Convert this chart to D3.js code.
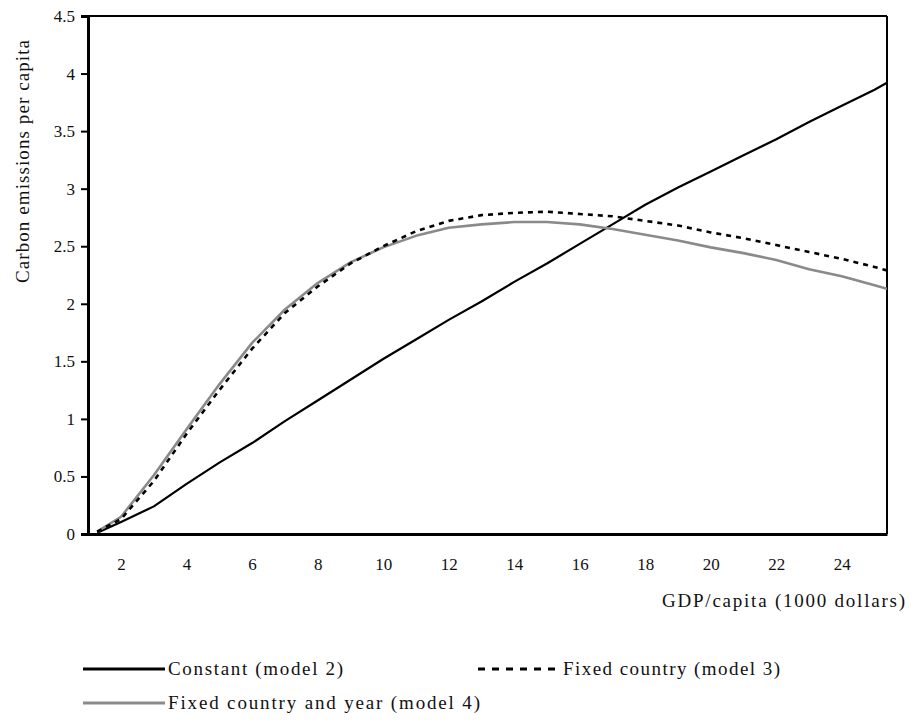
<!DOCTYPE html>
<html>
<head>
<meta charset="utf-8">
<script src="https://cdn.jsdelivr.net/npm/d3@7"></script>
<style>
  html, body { margin: 0; padding: 0; background: #fff; }
  svg { display: block; }
  text { font-family: "Liberation Serif", "DejaVu Serif", "Times New Roman", serif; fill: #111; }
</style>
</head>
<body>
<svg id="chart" width="911" height="724"></svg>
<script>
// ---- data ----
const gdpPerCapita = [1.27, 2, 3, 4, 5, 6, 7, 8, 9, 10, 11, 12, 13, 14, 15, 16, 17, 18, 19, 20, 21, 22, 23, 24, 25, 25.38];
const constantModel2 = [0.01, 0.105, 0.24, 0.435, 0.62, 0.79, 0.98, 1.16, 1.34, 1.52, 1.69, 1.86, 2.02, 2.19, 2.35, 2.52, 2.69, 2.86, 3.01, 3.15, 3.29, 3.43, 3.58, 3.72, 3.86, 3.92];
const fixedCountryModel3 = [0.02, 0.13, 0.46, 0.87, 1.25, 1.61, 1.92, 2.15, 2.35, 2.50, 2.63, 2.72, 2.77, 2.79, 2.80, 2.78, 2.76, 2.72, 2.68, 2.62, 2.57, 2.51, 2.45, 2.39, 2.32, 2.29];
const fixedCountryYearModel4 = [0.02, 0.15, 0.51, 0.91, 1.30, 1.66, 1.95, 2.18, 2.36, 2.49, 2.59, 2.66, 2.69, 2.71, 2.71, 2.69, 2.65, 2.60, 2.55, 2.49, 2.44, 2.38, 2.30, 2.24, 2.16, 2.13];
const xTickValues = [2, 4, 6, 8, 10, 12, 14, 16, 18, 20, 22, 24];
const yTickValues = [0, 0.5, 1, 1.5, 2, 2.5, 3, 3.5, 4, 4.5];
const seriesNames = ["Constant (model 2)", "Fixed country (model 3)", "Fixed country and year (model 4)"];
const xTitle = "GDP/capita (1000 dollars)";
const yTitle = "Carbon emissions per capita";

// ---- layout ----
const svg = d3.select("#chart");
const plot = { left: 88, right: 887, top: 16, bottom: 534 };

const x = d3.scaleLinear().domain([0.99, 25.38]).range([plot.left, plot.right]);
const y = d3.scaleLinear().domain([0, 4.5]).range([plot.bottom, plot.top]);

svg.append("defs").append("clipPath").attr("id", "clip")
  .append("rect").attr("x", plot.left).attr("y", plot.top)
  .attr("width", plot.right - plot.left).attr("height", plot.bottom - plot.top);

// frame top/right
svg.append("line").attr("x1", plot.left).attr("x2", plot.right).attr("y1", plot.top).attr("y2", plot.top)
  .attr("stroke", "#000").attr("stroke-width", 2);
svg.append("line").attr("x1", plot.right).attr("x2", plot.right).attr("y1", plot.top).attr("y2", plot.bottom)
  .attr("stroke", "#000").attr("stroke-width", 2);

// lines
const series = [
  { name: seriesNames[0], values: constantModel2, color: "#000", width: 2.2, dash: null },
  { name: seriesNames[1], values: fixedCountryModel3, color: "#000", width: 2.6, dash: "5,5" },
  { name: seriesNames[2], values: fixedCountryYearModel4, color: "#8a8a8a", width: 2.6, dash: null }
];
const line = d3.line().x((d, i) => x(gdpPerCapita[i])).y(d => y(d));
const drawOrder = [0, 2, 1];
const g = svg.append("g").attr("clip-path", "url(#clip)");
drawOrder.forEach(k => {
  const s = series[k];
  g.append("path").datum(s.values)
    .attr("d", line)
    .attr("fill", "none")
    .attr("stroke", s.color)
    .attr("stroke-width", s.width)
    .attr("stroke-dasharray", s.dash)
    .attr("stroke-linejoin", "round");
});

// y axis
const yAxis = svg.append("g").attr("transform", `translate(${plot.left},0)`)
  .call(d3.axisLeft(y).tickValues(yTickValues).tickSize(7).tickPadding(6).tickFormat(d3.format("")));
yAxis.attr("font-family", null);
yAxis.select(".domain").attr("stroke", "#000").attr("stroke-width", 3);
yAxis.selectAll(".tick line").attr("stroke", "#000").attr("stroke-width", 2);
yAxis.selectAll(".tick text").attr("font-size", 17).attr("fill", "#111");

// x axis
const xAxis = svg.append("g").attr("transform", `translate(0,${plot.bottom})`)
  .call(d3.axisBottom(x).tickValues(xTickValues).tickSize(0).tickPadding(24).tickFormat(d3.format("")));
xAxis.attr("font-family", null);
xAxis.select(".domain").attr("stroke", "#000").attr("stroke-width", 3);
xAxis.selectAll(".tick text").attr("font-size", 17).attr("fill", "#111");

// titles
svg.append("text").attr("x", 905).attr("y", 607).attr("text-anchor", "end")
  .attr("font-size", 19).attr("textLength", 243).attr("lengthAdjust", "spacing").text(xTitle);
svg.append("text").attr("transform", "translate(29,283) rotate(-90)")
  .attr("font-size", 19).attr("textLength", 243).attr("lengthAdjust", "spacing").text(yTitle);

// legend
const legendItems = [
  { s: series[0], x0: 83, x1: 165, ly: 669, tx: 168, tw: 175 },
  { s: series[1], x0: 478, x1: 560, ly: 669, tx: 563, tw: 217 },
  { s: series[2], x0: 83, x1: 165, ly: 703, tx: 168, tw: 312 }
];
legendItems.forEach(it => {
  svg.append("line").attr("x1", it.x0).attr("x2", it.x1).attr("y1", it.ly).attr("y2", it.ly)
    .attr("stroke", it.s.color).attr("stroke-width", 3)
    .attr("stroke-dasharray", it.s.dash ? "7,7" : null);
  svg.append("text").attr("x", it.tx).attr("y", it.ly + 6)
    .attr("font-size", 19).attr("textLength", it.tw).attr("lengthAdjust", "spacing").text(it.s.name);
});
</script>
</body>
</html>
